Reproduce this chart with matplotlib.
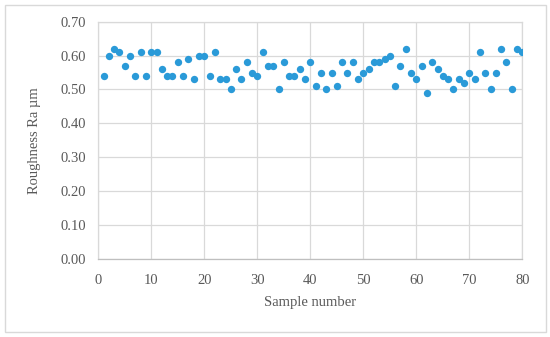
import matplotlib
matplotlib.use('Agg')
import matplotlib.pyplot as plt
from matplotlib.patches import Rectangle

# номер образца и шероховатость Ra, мкм
samples = list(range(1, 81))
roughness = [
    0.54, 0.60, 0.62, 0.61, 0.57, 0.60, 0.54, 0.61, 0.54, 0.61,
    0.61, 0.56, 0.54, 0.54, 0.58, 0.54, 0.59, 0.53, 0.60, 0.60,
    0.54, 0.61, 0.53, 0.53, 0.50, 0.56, 0.53, 0.58, 0.55, 0.54,
    0.61, 0.57, 0.57, 0.50, 0.58, 0.54, 0.54, 0.56, 0.53, 0.58,
    0.51, 0.55, 0.50, 0.55, 0.51, 0.58, 0.55, 0.58, 0.53, 0.55,
    0.56, 0.58, 0.58, 0.59, 0.60, 0.51, 0.57, 0.62, 0.55, 0.53,
    0.57, 0.49, 0.58, 0.56, 0.54, 0.53, 0.50, 0.53, 0.52, 0.55,
    0.53, 0.61, 0.55, 0.50, 0.55, 0.62, 0.58, 0.50, 0.62, 0.61,
]
x_ticks = [0, 10, 20, 30, 40, 50, 60, 70, 80]
y_ticks = [0.0, 0.1, 0.2, 0.3, 0.4, 0.5, 0.6, 0.7]

plt.rcParams['font.family'] = ['Liberation Serif', 'DejaVu Serif']

fig = plt.figure(figsize=(5.5, 3.37), dpi=100)
ax = fig.add_axes([0.1787, 0.2315, 0.771, 0.7041])

# рамка вокруг всего рисунка
fig.patches.append(Rectangle((5 / 550, 5 / 337), 541 / 550, 327 / 337,
                             transform=fig.transFigure, fill=False,
                             edgecolor='#d9d9d9', linewidth=1))

ax.scatter(samples, roughness, s=28, color='#2a9ad8', zorder=3, linewidths=0)

ax.set_xlim(0, 80)
ax.set_ylim(0, 0.7)
ax.set_xticks(x_ticks)
ax.set_yticks(y_ticks)
ax.set_yticklabels(['%.2f' % v for v in y_ticks])
ax.grid(True, color='#d9d9d9', linewidth=0.9)
for s in ax.spines.values():
    s.set_color('#d9d9d9')
    s.set_linewidth(0.9)
ax.spines['bottom'].set_color('#bfbfbf')
ax.tick_params(length=0, labelsize=10.5, colors='#595959')
ax.tick_params(axis='y', pad=9)
ax.tick_params(axis='x', pad=11)

ax.set_xlabel('Sample number', fontsize=10.5, color='#595959', labelpad=6)
ax.set_ylabel('Roughness Ra µm', fontsize=10.5, color='#595959', labelpad=14)

plt.savefig('out.png', dpi=100)
